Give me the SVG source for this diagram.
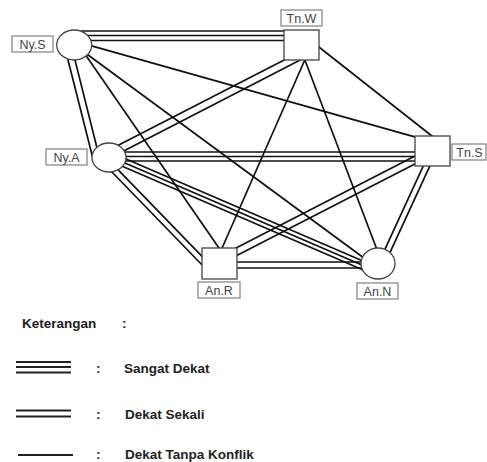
<svg xmlns="http://www.w3.org/2000/svg" width="487" height="462" viewBox="0 0 487 462">
<style>
.e{stroke:#111;stroke-width:1.7;fill:none}
.lg{stroke:#222;stroke-width:2.2;fill:none}
.nd{fill:#fff;stroke:#444;stroke-width:1.3}
.lb{fill:#fff;stroke:#8a8a8a;stroke-width:1.3}
.lt{font-family:"Liberation Sans",Arial,sans-serif;font-size:12.5px;fill:#444;text-anchor:middle}
.kt{font-family:"Liberation Sans",Arial,sans-serif;font-size:13.5px;font-weight:bold;fill:#222}
</style>
<rect width="487" height="462" fill="#fff"/>
<g id="connectors">
<line class="e" x1="79" y1="31" x2="300" y2="31"/>
<line class="e" x1="74" y1="35.5" x2="300" y2="35.5"/>
<line class="e" x1="74" y1="40.5" x2="300" y2="40.5"/>
<line class="e" x1="65.5" y1="50" x2="93.3" y2="160"/>
<line class="e" x1="72.5" y1="50" x2="100" y2="160"/>
<line class="e" x1="80" y1="42.6" x2="420" y2="138.4"/>
<line class="e" x1="80.1" y1="47" x2="223.8" y2="255"/>
<line class="e" x1="80" y1="49" x2="368" y2="261"/>
<line class="e" x1="110" y1="149.6" x2="290" y2="57"/>
<line class="e" x1="115" y1="155.6" x2="306" y2="57"/>
<line class="e" x1="310" y1="40" x2="437" y2="140"/>
<line class="e" x1="307" y1="55" x2="219" y2="255"/>
<line class="e" x1="303" y1="55" x2="379" y2="255"/>
<line class="e" x1="115" y1="152" x2="425" y2="152"/>
<line class="e" x1="115" y1="156.5" x2="425" y2="156.5"/>
<line class="e" x1="115" y1="161" x2="425" y2="161"/>
<line class="e" x1="110" y1="170" x2="205" y2="268"/>
<line class="e" x1="114.3" y1="165.8" x2="209.3" y2="263.8"/>
<line class="e" x1="119.6" y1="156.3" x2="371.6" y2="264.8"/>
<line class="e" x1="118" y1="160" x2="370" y2="268.5"/>
<line class="e" x1="116.4" y1="163.7" x2="368.4" y2="272.2"/>
<line class="e" x1="225.3" y1="253.6" x2="422.3" y2="152.3"/>
<line class="e" x1="228.5" y1="259.8" x2="425.5" y2="158.5"/>
<line class="e" x1="426.8" y1="158.3" x2="383.5" y2="252.3"/>
<line class="e" x1="432.2" y1="160.8" x2="388.9" y2="254.8"/>
<line class="e" x1="230" y1="262" x2="370" y2="262"/>
<line class="e" x1="230" y1="268" x2="370" y2="268"/>
</g>
<g id="node-NyS">
<ellipse class="nd" cx="74.2" cy="45" rx="17.5" ry="15"/>
<rect class="lb" x="12" y="36" width="41" height="16"/>
<text class="lt" x="32.5" y="48.5">Ny.S</text>
</g>
<g id="node-TnW">
<rect class="nd" x="284" y="30" width="35" height="30"/>
<rect class="lb" x="281" y="10" width="41" height="16"/>
<text class="lt" x="301.5" y="22.5">Tn.W</text>
</g>
<g id="node-NyA">
<ellipse class="nd" cx="109" cy="157.5" rx="17" ry="14.5"/>
<rect class="lb" x="46" y="149" width="41" height="16"/>
<text class="lt" x="66.5" y="161.5">Ny.A</text>
</g>
<g id="node-TnS">
<rect class="nd" x="415" y="136" width="35" height="30"/>
<rect class="lb" x="452" y="144" width="34" height="16"/>
<text class="lt" x="469.5" y="156.5">Tn.S</text>
</g>
<g id="node-AnR">
<rect class="nd" x="202" y="248" width="35" height="31"/>
<rect class="lb" x="198" y="282" width="42" height="16"/>
<text class="lt" x="219" y="294.5">An.R</text>
</g>
<g id="node-AnN">
<ellipse class="nd" cx="378" cy="263.5" rx="17" ry="15.5"/>
<rect class="lb" x="357" y="283" width="41" height="16"/>
<text class="lt" x="377.5" y="295.5">An.N</text>
</g>
<g id="legend">
<text class="kt" x="22" y="328">Keterangan</text>
<text class="kt" x="122" y="328">:</text>
<line class="lg" x1="16" y1="362" x2="71" y2="362"/>
<line class="lg" x1="16" y1="367" x2="71" y2="367"/>
<line class="lg" x1="16" y1="372.5" x2="71" y2="372.5"/>
<text class="kt" x="96" y="372.5">:</text>
<text class="kt" x="124" y="372.5">Sangat Dekat</text>
<line class="lg" x1="16" y1="410.5" x2="71" y2="410.5"/>
<line class="lg" x1="16" y1="416.5" x2="71" y2="416.5"/>
<text class="kt" x="96" y="419">:</text>
<text class="kt" x="125" y="419">Dekat Sekali</text>
<line class="lg" x1="18" y1="455" x2="73" y2="455"/>
<text class="kt" x="96" y="458.5">:</text>
<text class="kt" x="125" y="458.5">Dekat Tanpa Konflik</text>
</g>
</svg>
